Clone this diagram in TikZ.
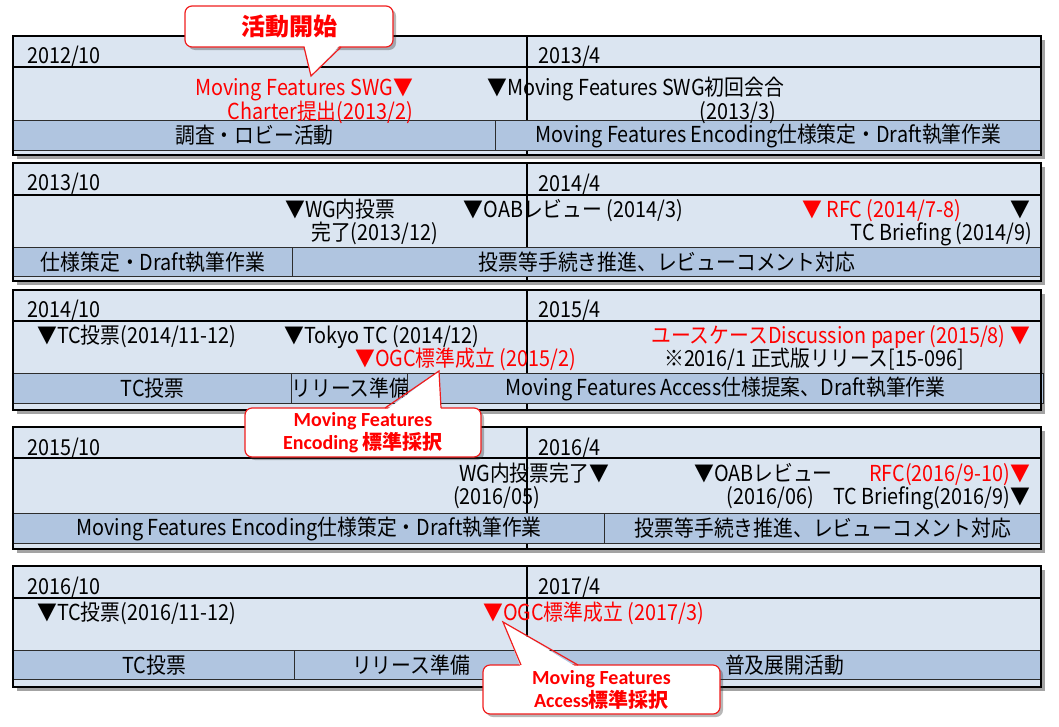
\documentclass[tikz,border=0pt]{standalone}
\usepackage{fontspec}
\setmainfont{Noto Sans CJK JP}[FakeStretch=0.9]
\newfontfamily\jpplain{Noto Sans CJK JP}
\newfontfamily\calib{Carlito}
\usetikzlibrary{shadows}
\definecolor{panelblue}{RGB}{219,229,241}
\definecolor{barblue}{RGB}{176,197,224}
\definecolor{barline}{RGB}{45,45,45}
\definecolor{calred}{RGB}{240,30,30}
\definecolor{evred}{RGB}{255,0,0}
\newcommand\lbfont{\fontsize{22}{26}\selectfont}
\tikzset{
  panel/.style={fill=panelblue, draw=none, inner sep=0pt, anchor=north west,
    drop shadow={shadow xshift=4pt, shadow yshift=-4pt, opacity=0.45, fill=black!80}},
  frame/.style={draw=black, line width=2pt},
  sepline/.style={draw=black, line width=1.5pt},
  bar/.style={draw=barline, line width=1pt, fill=barblue, inner sep=0pt, anchor=north west, font=\lbfont},
  hdr/.style={anchor=base west, inner sep=0pt, font=\lbfont},
  ev/.style={inner sep=0pt, font=\lbfont},
  evr/.style={ev, text=evred},
  callout/.style={draw=calred, line width=1.2pt, fill=white, rounded corners=7pt, inner sep=0pt,
    text=evred, align=center,
    drop shadow={shadow xshift=3pt, shadow yshift=-3pt, opacity=0.35, fill=black!80}},
  ptr/.style={draw=calred, line width=1.2pt, line join=miter},
  ptrfill/.style={fill=white, draw=none},
}
\begin{document}
\begin{tikzpicture}[x=1pt, y=-1pt]
\useasboundingbox (0,0) rectangle (1059,726);

% ---------- Panel 1
\node[panel, minimum width=1028pt, minimum height=119pt] (p1) at (13,36) {};
\draw[sepline] (13,67) -- (1041,67);
\draw[sepline] (527,36) -- (527,155);
\node[bar, minimum width=482pt, minimum height=30pt] (p1b1) at (13,120) {調査・ロビー活動};
\node[bar, minimum width=546pt, minimum height=30pt] (p1b2) at (495,120) {Moving Features Encoding仕様策定・Draft執筆作業};
\draw[frame] (p1.north west) rectangle (p1.south east);
\node[hdr] (p1h1) at (27,63) {2012/10};
\node[hdr] (p1h2) at (538,63) {2013/4};
\node[evr, anchor=base east] (p1e1) at (413,95) {Moving Features SWG▼};
\node[evr, anchor=base east] (p1e2) at (413,119) {Charter提出(2013/2)};
\node[ev, anchor=base west] (p1e3) at (487,95) {▼Moving Features SWG初回会合};
\node[ev, anchor=base east] (p1e4) at (776,119) {(2013/3)};

% ---------- Panel 2
\node[panel, minimum width=1028pt, minimum height=118pt] (p2) at (13,163) {};
\draw[sepline] (13,195) -- (1041,195);
\draw[sepline] (527,163) -- (527,281);
\node[bar, minimum width=279pt, minimum height=29pt] (p2b1) at (13,247) {仕様策定・Draft執筆作業};
\node[bar, minimum width=749pt, minimum height=29pt] (p2b2) at (292,247) {投票等手続き推進、レビューコメント対応};
\draw[frame] (p2.north west) rectangle (p2.south east);
\node[hdr] (p2h1) at (27,190) {2013/10};
\node[hdr] (p2h2) at (538,191) {2014/4};
\node[ev, anchor=base west] (p2e1) at (285,217) {▼WG内投票};
\node[ev, anchor=base west] (p2e2) at (311,240) {完了(2013/12)};
\node[ev, anchor=base east] (p2e3) at (683,217) {▼OABレビュー (2014/3)};
\node[evr, anchor=base west] (p2e4) at (802,217) {▼ RFC (2014/7-8)};
\node[ev, anchor=base east] (p2e5) at (1030,217) {▼};
\node[ev, anchor=base east] (p2e6) at (1032,240) {TC Briefing (2014/9)};

% ---------- Panel 3
\node[panel, minimum width=1028pt, minimum height=120pt] (p3) at (13,290) {};
\draw[sepline] (13,321) -- (1041,321);
\draw[sepline] (527,290) -- (527,410);
\node[bar, minimum width=278pt, minimum height=30pt] (p3b1) at (13,373) {TC投票};
\node[bar, minimum width=116pt, minimum height=30pt] (p3b2) at (291,373) {リリース準備};
\node[bar, minimum width=636pt, minimum height=30pt] (p3b3) at (407,373) {Moving Features Access仕様提案、Draft執筆作業};
\draw[frame] (p3.north west) rectangle (p3.south east);
\node[hdr] (p3h1) at (27,317) {2014/10};
\node[hdr] (p3h2) at (538,317) {2015/4};
\node[ev, anchor=base west] (p3e1) at (37,343) {▼TC投票(2014/11-12)};
\node[ev, anchor=base west] (p3e2) at (284,343) {▼Tokyo TC (2014/12)};
\node[evr, anchor=base west] (p3e3) at (355,366) {▼OGC標準成立 (2015/2)};
\node[evr, anchor=base east] (p3e4) at (1030,343) {ユースケースDiscussion paper (2015/8) ▼};
\node[ev, anchor=base west] (p3e5) at (664,366) {※2016/1 正式版リリース[15-096]};

% ---------- Panel 4
\node[panel, minimum width=1028pt, minimum height=122pt] (p4) at (13,427) {};
\draw[sepline] (13,458) -- (1041,458);
\draw[sepline] (527,427) -- (527,549);
\node[bar, minimum width=591pt, minimum height=30pt] (p4b1) at (13,513) {Moving Features Encoding仕様策定・Draft執筆作業};
\node[bar, minimum width=437pt, minimum height=30pt] (p4b2) at (604,513) {投票等手続き推進、レビューコメント対応};
\draw[frame] (p4.north west) rectangle (p4.south east);
\node[hdr] (p4h1) at (27,455) {2015/10};
\node[hdr] (p4h2) at (538,455) {2016/4};
\node[ev, anchor=base east] (p4e1) at (609,481) {WG内投票完了▼};
\node[ev, anchor=base west] (p4e2) at (453,504) {(2016/05)};
\node[ev, anchor=base west] (p4e3) at (694,481) {▼OABレビュー};
\node[ev, anchor=base east] (p4e4) at (814,504) {(2016/06)};
\node[evr, anchor=base east] (p4e5) at (1030,481) {RFC(2016/9-10)▼};
\node[ev, anchor=base east] (p4e6) at (1030,504) {TC Briefing(2016/9)▼};

% ---------- Panel 5
\node[panel, minimum width=1028pt, minimum height=121pt] (p5) at (13,566) {};
\draw[sepline] (13,598) -- (1041,598);
\draw[sepline] (527,566) -- (527,687);
\node[bar, minimum width=281pt, minimum height=29pt] (p5b1) at (13,650) {TC投票};
\node[bar, minimum width=233pt, minimum height=29pt] (p5b2) at (294,650) {リリース準備};
\node[bar, minimum width=514pt, minimum height=29pt] (p5b3) at (527,650) {普及展開活動};
\draw[frame] (p5.north west) rectangle (p5.south east);
\node[hdr] (p5h1) at (27,594) {2016/10};
\node[hdr] (p5h2) at (538,594) {2017/4};
\node[ev, anchor=base west] (p5e1) at (37,620) {▼TC投票(2016/11-12)};
\node[evr, anchor=base west] (p5e2) at (483,620) {▼OGC標準成立 (2017/3)};

% ---------- Callout 1
\node[callout, minimum width=208pt, minimum height=41pt, font=\jpplain\fontsize{24}{28}\selectfont\bfseries] (c1) at (289,26.5) {活動開始};
\coordinate (c1tip) at (311,76);
\coordinate (c1a) at (304,47);
\coordinate (c1b) at (341,47);
\fill[ptrfill] (304,44) -- (c1tip) -- (341,44) -- cycle;
\draw[ptr] (c1a) -- (c1tip) -- (c1b);

% ---------- Callout 2
\node[callout, minimum width=236pt, minimum height=49pt, font=\jpplain\fontsize{20}{23}\selectfont\bfseries] (c2) at (363,432.5)
  {{\calib Moving Features}\\{\calib Encoding} 標準採択};
\coordinate (c2tip) at (439,371);
\coordinate (c2a) at (385,408);
\coordinate (c2b) at (441,408);
\fill[ptrfill] (385,411) -- (c2tip) -- (441,411) -- cycle;
\draw[ptr] (c2a) -- (c2tip) -- (c2b);

% ---------- Callout 3
\node[callout, minimum width=237pt, minimum height=49pt, font=\jpplain\fontsize{20}{23}\selectfont\bfseries] (c3) at (601.5,689.5)
  {{\calib Moving Features}\\{\calib Access}標準採択};
\coordinate (c3tip) at (503,622);
\coordinate (c3a) at (521,665);
\coordinate (c3b) at (578,665);
\fill[ptrfill] (521,668) -- (c3tip) -- (578,668) -- cycle;
\draw[ptr] (c3a) -- (c3tip) -- (c3b);
\end{tikzpicture}
\end{document}
